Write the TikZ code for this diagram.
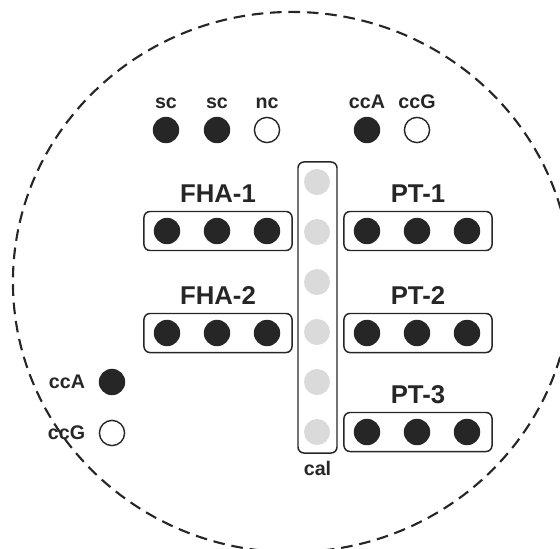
\documentclass[tikz,border=0pt]{standalone}
\usepackage{fontspec}
\setmainfont{Liberation Sans}
\usetikzlibrary{positioning}
\definecolor{inkdark}{HTML}{262626}
\definecolor{calgray}{HTML}{DADADA}
\tikzset{
  dot/.style = {
    circle, fill=inkdark, inner sep=0pt, minimum size=0.66cm
  },
  opendot/.style = {
    circle, draw=inkdark, fill=white, line width=1pt,
    inner sep=0pt, minimum size=0.63cm
  },
  caldot/.style = {
    circle, fill=calgray, inner sep=0pt, minimum size=0.65cm
  },
  holder/.style = {
    rectangle, rounded corners=0.15cm, draw=inkdark, line width=1.05pt,
    minimum width=3.7cm, minimum height=0.975cm, inner sep=0pt
  },
  calbox/.style = {
    rectangle, rounded corners=0.15cm, draw=inkdark, line width=1.05pt,
    minimum width=0.975cm, minimum height=7.275cm, inner sep=0pt
  },
  smalllabel/.style = {
    inner sep=0pt, text=inkdark, font=\fontsize{14}{16}\selectfont\bfseries
  },
  grouplabel/.style = {
    inner sep=0pt, text=inkdark, font=\fontsize{18.3}{21}\selectfont\bfseries
  },
  plate/.style = {
    draw=inkdark, line width=1.5pt, dash pattern=on 0.29cm off 0.17cm
  }
}

\begin{document}
\begin{tikzpicture}[x=0.025cm, y=-0.025cm]

  \useasboundingbox (0,0) rectangle (560,548);
  \clip (0,0) rectangle (560,548);

  % outline of the plate
  \draw[plate] (292,282) ellipse [x radius=6.975cm, y radius=6.75cm];

  % top row
  \node[dot]     (sc1)  at (166,130) {};
  \node[dot]     (sc2)  at (217,130) {};
  \node[opendot] (nc)   at (267,130) {};
  \node[dot]     (ccAt) at (367,130) {};
  \node[opendot] (ccGt) at (417,130) {};
  \node[smalllabel, above=0.2cm of sc1]  (sc1-lbl)  {sc};
  \node[smalllabel, above=0.2cm of sc2]  (sc2-lbl)  {sc};
  \node[smalllabel, above=0.2cm of nc]   (nc-lbl)   {nc};
  \node[smalllabel, above=0.2cm of ccAt] (ccAt-lbl) {ccA};
  \node[smalllabel, above=0.2cm of ccGt] (ccGt-lbl) {ccG};

  % sample holders
  \foreach \name/\lbl/\cx/\cy in {fha1/FHA-1/218/231, fha2/FHA-2/218/333,
      pt1/PT-1/418/231, pt2/PT-2/418/333, pt3/PT-3/418/432} {
    \node[holder] (\name) at (\cx,\cy) {};
    \node[grouplabel, above=0.2cm of \name] (\name-lbl) {\lbl};
    \foreach \k/\dx in {1/-51, 2/-1, 3/49}
      \node[dot] (\name-\k) at (\cx+\dx,\cy) {};
  }

  % calibration column
  \node[calbox] (cal) at (317.5,307.5) {};
  \foreach \k in {1,...,6}
    \node[caldot] (cal-\k) at (317,132+50*\k) {};
  \node[smalllabel, below=0.17cm of cal] (cal-lbl) {cal};

  % left pair
  \node[dot]     (ccAl) at (112,382) {};
  \node[opendot] (ccGl) at (112,433) {};
  \node[smalllabel, left=0.33cm of ccAl] (ccAl-lbl) {ccA};
  \node[smalllabel, left=0.33cm of ccGl] (ccGl-lbl) {ccG};

\end{tikzpicture}
\end{document}
